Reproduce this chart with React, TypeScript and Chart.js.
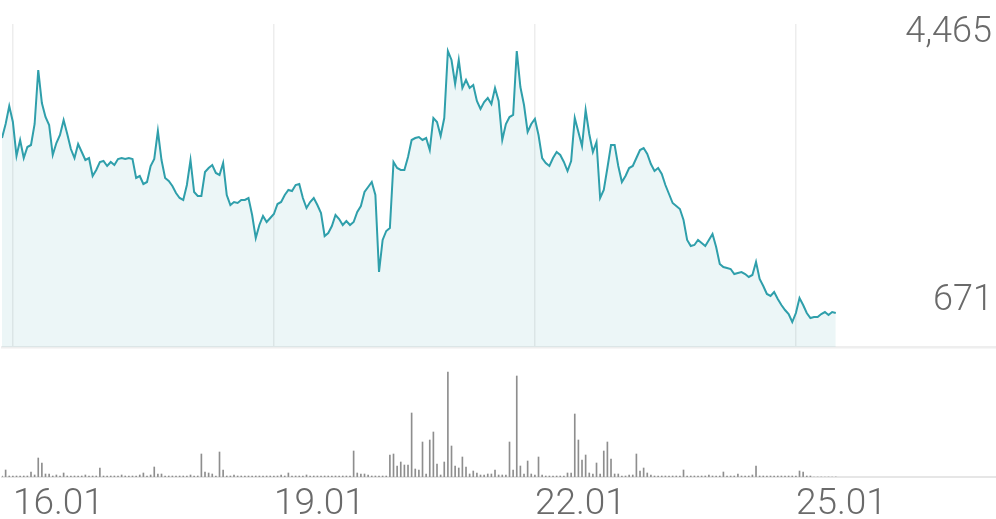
import React, { useEffect, useRef } from 'react';
import { Chart, registerables } from 'chart.js';

Chart.register(...registerables);

// hourly samples, first one at 15.01 21:00 (hours counted from 15.01 00:00)
const START_HOUR = 21;
const X_MIN = 21;
const X_MAX = 295.2;
const Y_MIN = 321;
const Y_MAX = 4843;
const VOL_MAX = 110;

const tickHours = [24, 96, 168, 240];
const tickLabels = ['16.01', '19.01', '22.01', '25.01'];

const prices = [
  3247, 3443, 3695, 3471, 2995, 3219, 2967, 3121, 3149, 3443,
  4199, 3737, 3541, 3429, 3009, 3177, 3289, 3499, 3303, 3093,
  2967, 3163, 3051, 2939, 2967, 2715, 2799, 2911, 2925, 2855,
  2911, 2869, 2953, 2967, 2953, 2967, 2953, 2687, 2715, 2603,
  2631, 2855, 2953, 3345, 2939, 2687, 2645, 2575, 2477, 2407,
  2379, 2589, 2939, 2491, 2435, 2435, 2771, 2827, 2869, 2757,
  2729, 2897, 2449, 2309, 2351, 2337, 2379, 2379, 2407, 2169,
  1847, 2029, 2155, 2071, 2127, 2183, 2323, 2351, 2449, 2519,
  2505, 2589, 2603, 2407, 2267, 2351, 2407, 2309, 2197, 1875,
  1917, 2015, 2169, 2113, 2029, 2085, 2029, 2071, 2211, 2295,
  2491, 2561, 2631, 2449, 1371, 1819, 1945, 1987, 2911, 2827,
  2799, 2799, 2981, 3219, 3247, 3261, 3219, 3247, 3079, 3527,
  3471, 3275, 3527, 4465, 4339, 4003, 4339, 3947, 4059, 3947,
  3989, 3765, 3653, 3751, 3807, 3723, 3947, 3765, 3219, 3443,
  3541, 3569, 4465, 3961, 3709, 3331, 3443, 3513, 3289, 2967,
  2897, 2855, 2967, 3051, 3009, 2911, 2785, 2925, 3527, 3331,
  3135, 3639, 3303, 3051, 3191, 2407, 2519, 2827, 3149, 3149,
  2855, 2631, 2715, 2827, 2855, 2967, 3079, 3107, 3023, 2883,
  2785, 2827, 2743, 2589, 2463, 2337, 2295, 2253, 2099, 1819,
  1735, 1749, 1819, 1777, 1735, 1819, 1903, 1721, 1483, 1441,
  1427, 1413, 1343, 1357, 1371, 1343, 1301, 1329, 1511, 1273,
  1175, 1063, 1035, 1091, 993, 909, 839, 783, 671, 797,
  1007, 909, 797, 727, 741, 741, 783, 811, 769, 811, 797,
];

const volumes = [
  1, 7, 1, 1, 1, 1, 1, 1, 5, 2,
  19, 14, 3, 3, 1, 2, 1, 4, 1, 1,
  1, 1, 1, 2, 1, 1, 1, 9, 1, 1,
  1, 1, 1, 2, 1, 1, 1, 1, 2, 4,
  1, 2, 10, 3, 3, 1, 1, 1, 1, 1,
  1, 1, 2, 1, 1, 23, 5, 4, 3, 1,
  25, 7, 1, 1, 2, 1, 1, 1, 1, 1,
  1, 1, 1, 1, 1, 1, 1, 2, 1, 4,
  1, 1, 1, 1, 2, 1, 1, 1, 1, 1,
  1, 1, 1, 1, 1, 1, 1, 26, 4, 3,
  3, 2, 1, 1, 1, 1, 1, 22, 23, 11,
  15, 12, 12, 64, 8, 7, 35, 3, 37, 45,
  13, 2, 15, 105, 31, 11, 9, 20, 10, 3,
  6, 4, 2, 2, 3, 3, 7, 2, 2, 2,
  35, 7, 101, 11, 3, 16, 3, 2, 20, 2,
  1, 1, 1, 1, 1, 1, 4, 4, 63, 37,
  17, 22, 4, 3, 14, 3, 26, 35, 18, 3,
  3, 1, 1, 2, 2, 23, 6, 9, 4, 2,
  1, 1, 1, 1, 1, 1, 1, 1, 7, 1,
  1, 1, 1, 1, 1, 2, 1, 1, 1, 5,
  1, 1, 1, 3, 1, 1, 1, 2, 11, 1,
  1, 1, 1, 1, 1, 1, 1, 1, 1, 1,
  6, 5, 1, 1, 0, 0, 0, 0, 0, 0, 0,
];

const FONT_FAMILY = 'Roboto, "Noto Sans", sans-serif';
const TEXT_COLOR = '#6a6a6a';

const extremesPlugin = {
  id: 'extremes',
  afterDatasetsDraw(chart: any) {
    const { ctx, chartArea, scales } = chart;
    const y = scales.y;
    const maxV = Math.max(...prices);
    const minV = Math.min(...prices);
    ctx.save();
    ctx.font = `300 36px ${FONT_FAMILY}`;
    ctx.fillStyle = TEXT_COLOR;
    ctx.textAlign = 'right';
    ctx.textBaseline = 'alphabetic';
    ctx.fillText(maxV.toLocaleString('en-US'), chartArea.right - 4, y.getPixelForValue(maxV) - 9);
    ctx.fillText(minV.toLocaleString('en-US'), chartArea.right - 3, y.getPixelForValue(minV) - 12);
    ctx.restore();
  },
};

const setTicks = (scale: any) => {
  scale.ticks = tickHours.map((v) => ({ value: v }));
};

export default function App() {
  const priceRef = useRef<HTMLCanvasElement>(null);
  const volRef = useRef<HTMLCanvasElement>(null);

  useEffect(() => {
    const priceChart = new Chart(priceRef.current as HTMLCanvasElement, {
      type: 'line',
      data: {
        datasets: [
          {
            data: prices.map((v, i) => ({ x: START_HOUR + i, y: v })),
            borderColor: '#2f9fab',
            borderWidth: 2,
            backgroundColor: 'rgba(48,160,165,0.09)',
            fill: 'start',
            pointRadius: 0,
            tension: 0,
          },
        ],
      },
      options: {
        responsive: false,
        animation: false,
        layout: { padding: { left: 2, right: 0, top: 24, bottom: 3 } },
        plugins: { legend: { display: false }, tooltip: { enabled: false } },
        scales: {
          x: {
            type: 'linear',
            min: X_MIN,
            max: X_MAX,
            afterBuildTicks: setTicks,
            ticks: { display: false },
            grid: { color: '#ededed', lineWidth: 1.5, drawTicks: false },
            border: { display: true, color: '#eeeeee', width: 2.5 },
          },
          y: { display: false, min: Y_MIN, max: Y_MAX },
        },
      } as any,
      plugins: [extremesPlugin],
    });

    const volChart = new Chart(volRef.current as HTMLCanvasElement, {
      type: 'bar',
      data: {
        datasets: [
          {
            data: volumes.map((v, i) => ({ x: START_HOUR + i, y: v })),
            backgroundColor: '#8e8e8e',
            barThickness: 1,
            borderWidth: 0,
          },
        ],
      },
      options: {
        responsive: false,
        animation: false,
        layout: { padding: { left: 2, right: 0, top: 7, bottom: -13 } },
        plugins: { legend: { display: false }, tooltip: { enabled: false } },
        scales: {
          x: {
            type: 'linear',
            min: X_MIN,
            max: X_MAX,
            offset: false,
            afterBuildTicks: setTicks,
            ticks: {
              align: 'start',
              padding: 9,
              color: TEXT_COLOR,
              maxRotation: 0,
              autoSkip: false,
              font: { family: FONT_FAMILY, size: 37, weight: '300', lineHeight: 1 },
              callback: (_v: any, i: number) => tickLabels[i],
            },
            grid: { display: false, drawTicks: false, offset: false },
            border: { display: true, color: '#e6e6e6', width: 2 },
          },
          y: { display: false, min: 0, max: VOL_MAX },
        },
      } as any,
    });

    return () => {
      priceChart.destroy();
      volChart.destroy();
    };
  }, []);

  return (
    <div style={{ position: 'absolute', left: 0, top: 0, width: 996, height: 519, background: '#fff' }}>
      <canvas ref={priceRef} width={996} height={350} style={{ position: 'absolute', left: 0, top: 0 }} />
      <canvas ref={volRef} width={996} height={159} style={{ position: 'absolute', left: 0, top: 360 }} />
    </div>
  );
}
